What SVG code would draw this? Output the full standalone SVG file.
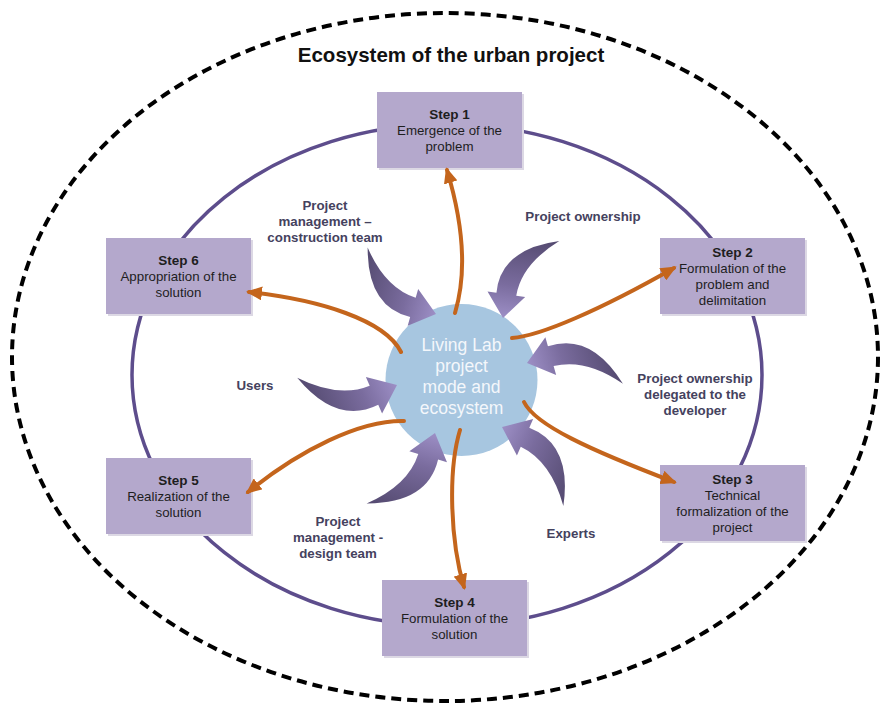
<svg xmlns="http://www.w3.org/2000/svg" width="880" height="705" viewBox="0 0 880 705">
<defs>
<style>
.box{fill:#b4a8cc;}
.shadow{fill:#dcd8e4;}
.st{font-family:"Liberation Sans",Arial,sans-serif;font-size:13.5px;font-weight:bold;fill:#1e1e1e;text-anchor:middle;}
.bt{font-family:"Liberation Sans",Arial,sans-serif;font-size:13.3px;fill:#1e1e1e;text-anchor:middle;}
.lb{font-family:"Liberation Sans",Arial,sans-serif;font-size:13.3px;font-weight:bold;fill:#45425e;text-anchor:middle;}
.ct{font-family:"Liberation Sans",Arial,sans-serif;font-size:17.5px;fill:#f4f7fb;text-anchor:middle;}
.oa{fill:none;stroke:#c4651c;stroke-width:4;stroke-linecap:round;marker-end:url(#ah);}
.pa{fill:url(#pg);}
</style>
<linearGradient id="pg" x1="0" y1="0" x2="1" y2="0">
<stop offset="0" stop-color="#544a70"/>
<stop offset="0.6" stop-color="#7a6c9e"/>
<stop offset="1" stop-color="#9d8fc6"/>
</linearGradient>
<marker id="ah" viewBox="0 0 16 14" refX="13" refY="7" markerWidth="16" markerHeight="14" orient="auto" markerUnits="userSpaceOnUse">
<path d="M0,0 L16,7 L0,14 z" fill="#c4651c"/>
</marker>
<path id="parr" d="M-84,-45 Q-56,-11 -24,-10 L-24,-19 L0,0 L-24,19 L-24,10 Q-68,12 -84,-45 Z"/>
</defs>
<rect width="880" height="705" fill="#ffffff"/>
<ellipse cx="445" cy="357" rx="433" ry="344" fill="none" stroke="#000" stroke-width="4" stroke-dasharray="10 6"/>
<ellipse cx="447" cy="375" rx="315" ry="251" fill="none" stroke="#5d4d8c" stroke-width="3.5"/>
<text x="451" y="62" font-family="Liberation Sans,Arial,sans-serif" font-size="20.5" font-weight="bold" fill="#111" text-anchor="middle">Ecosystem of the urban project</text>

<g id="step1"><rect class="shadow" x="379" y="94" width="145" height="76"/><rect class="box" x="377" y="92" width="145" height="76"/>
<text class="st" x="449.5" y="119">Step 1</text><text class="bt" x="449.5" y="135">Emergence of the</text><text class="bt" x="449.5" y="151">problem</text></g>
<g id="step2"><rect class="shadow" x="662" y="240" width="145" height="76"/><rect class="box" x="660" y="238" width="145" height="76"/>
<text class="st" x="732.5" y="257">Step 2</text><text class="bt" x="732.5" y="273">Formulation of the</text><text class="bt" x="732.5" y="289">problem and</text><text class="bt" x="732.5" y="305">delimitation</text></g>
<g id="step3"><rect class="shadow" x="662" y="467" width="145" height="76"/><rect class="box" x="660" y="465" width="145" height="76"/>
<text class="st" x="732.5" y="484">Step 3</text><text class="bt" x="732.5" y="500">Technical</text><text class="bt" x="732.5" y="516">formalization of the</text><text class="bt" x="732.5" y="532">project</text></g>
<g id="step4"><rect class="shadow" x="384" y="582" width="145" height="76"/><rect class="box" x="382" y="580" width="145" height="76"/>
<text class="st" x="454.5" y="607">Step 4</text><text class="bt" x="454.5" y="623">Formulation of the</text><text class="bt" x="454.5" y="639">solution</text></g>
<g id="step5"><rect class="shadow" x="108" y="460" width="145" height="76"/><rect class="box" x="106" y="458" width="145" height="76"/>
<text class="st" x="178.5" y="485">Step 5</text><text class="bt" x="178.5" y="501">Realization of the</text><text class="bt" x="178.5" y="517">solution</text></g>
<g id="step6"><rect class="shadow" x="108" y="240" width="145" height="76"/><rect class="box" x="106" y="238" width="145" height="76"/>
<text class="st" x="178.5" y="265">Step 6</text><text class="bt" x="178.5" y="281">Appropriation of the</text><text class="bt" x="178.5" y="297">solution</text></g>

<g id="center"><circle cx="461.5" cy="380" r="76" fill="#a7c6e0"/>
<text class="ct" x="461.5" y="351">Living Lab</text><text class="ct" x="461.5" y="372">project</text><text class="ct" x="461.5" y="393">mode and</text><text class="ct" x="461.5" y="414">ecosystem</text></g>

<g id="actors">
<use href="#parr" class="pa" transform="translate(436,314) rotate(16) scale(1)"/>
<use href="#parr" class="pa" transform="translate(503,318) rotate(98) scale(1)"/>
<use href="#parr" class="pa" transform="translate(527,363) rotate(164) scale(1.03)"/>
<use href="#parr" class="pa" transform="translate(397,385) rotate(-24) scale(1.05)"/>
<use href="#parr" class="pa" transform="translate(435,433) rotate(-74) scale(1.03)"/>
<use href="#parr" class="pa" transform="translate(502,427) rotate(204) scale(1.05)"/>
</g>

<g id="connectors">
<path class="oa" d="M455,313 C468,270 462,220 447,170"/>
<path class="oa" d="M512,338 C540,336 600,310 674,268"/>
<path class="oa" d="M524,402 C535,425 590,450 674,482"/>
<path class="oa" d="M460,430 C448,470 450,540 464,587"/>
<path class="oa" d="M404,421 C360,420 300,450 248,492"/>
<path class="oa" d="M401,352 C385,320 320,300 249,292"/>
</g>

<g id="labels">
<text class="lb" x="325" y="210">Project</text><text class="lb" x="325" y="226">management –</text><text class="lb" x="325" y="242">construction team</text>
<text class="lb" x="583" y="221">Project ownership</text>
<text class="lb" x="695" y="383">Project ownership</text><text class="lb" x="695" y="399">delegated to the</text><text class="lb" x="695" y="415">developer</text>
<text class="lb" x="255" y="390">Users</text>
<text class="lb" x="338" y="526">Project</text><text class="lb" x="338" y="542">management -</text><text class="lb" x="338" y="558">design team</text>
<text class="lb" x="571" y="538">Experts</text>
</g>
</svg>
